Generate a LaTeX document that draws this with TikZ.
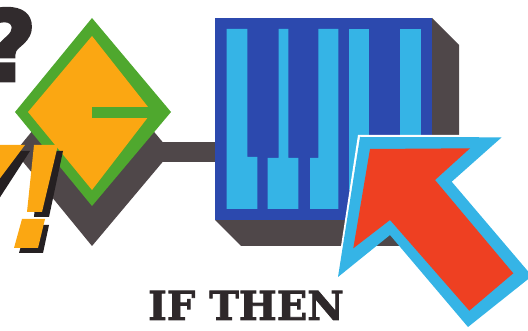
\documentclass[tikz,border=0pt]{standalone}
\usepackage{fontspec}
\setmainfont{DejaVu Serif}[BoldFeatures={FakeBold=2}]
\newfontfamily\marksfont{DejaVu Sans}[BoldFeatures={FakeBold=3}]
\definecolor{shadowgrey}{HTML}{4F4749}
\definecolor{leafgreen}{HTML}{4FA82E}
\definecolor{signorange}{HTML}{FBA712}
\definecolor{boxblue}{HTML}{2C49AE}
\definecolor{keycyan}{HTML}{35B4E6}
\definecolor{arrowred}{HTML}{EE4022}
\definecolor{inkdark}{HTML}{2E282A}
\begin{document}
\begin{tikzpicture}[x=1pt,y=-1pt]

\tikzset{
    shadow/.style={fill=shadowgrey},
    outerdiamond/.style={fill=leafgreen},
    innerdiamond/.style={fill=signorange},
    keyboard/.style={fill=boxblue},
    pianokey/.style={fill=keycyan},
    signmark/.style={fill=signorange},
    signshadow/.style={fill=inkdark!80!black},
    caption/.style={font=\bfseries\fontsize{40}{40}\selectfont, text=inkdark, inner sep=0pt},
    bigmark/.style={font=\marksfont\bfseries\fontsize{98}{98}\selectfont, text=inkdark!90!shadowgrey, inner sep=0pt}
}

    \clip (0,0) rectangle (528,331);

    % Question mark
    \node[bigmark, anchor=base east] (question) at (37,81) {?};

    % Diamond shadow and bar
    \path[shadow] (92,58) -- (171,152) -- (92,246) -- (15,152) -- cycle;
    \coordinate (barstart) at (160,152);
    \coordinate (barend) at (216,152);
    \draw[shadowgrey, line width=20pt] (barstart) -- (barend);

    % Diamond
    \path[outerdiamond] (92,18) -- (171,112) -- (92,206) -- (15,112) -- cycle;
    \path[innerdiamond] (92,36) -- (152,112) -- (92,190) -- (28,112) -- cycle;
    \path[outerdiamond] (92,107) rectangle (160,118);

    % Exclamation marks
    \path[signshadow] (-5,151) -- (30,151) -- (-5,205) -- cycle;
    \path[signmark] (-5,145) -- (25,145) -- (-5,185) -- cycle;
    \path[signshadow] (40,151) -- (63,151) -- (49,217) -- (34,217) -- cycle;
    \path[signmark] (34,145) -- (58,145) -- (42,212) -- (27,212) -- cycle;
    \path[signshadow] (27,225) -- (49,225) -- (43,253) -- (19,253) -- cycle;
    \path[signmark] (22,219) -- (45,219) -- (38,248) -- (14,248) -- cycle;

    % Keyboard box
    \path[shadow] (432,18) -- (459,45) -- (459,135) -- (400,246) -- (241,246) -- (215,220) -- cycle;
    \path[keyboard] (215,18) rectangle (432,220);
    \path[pianokey] (226.7,29) -- (247.3,29) -- (247.3,157) -- (257.3,157) -- (257.3,209) -- (226.7,209) -- cycle;
    \path[pianokey] (278.7,29) -- (288.3,29) -- (288.3,158) -- (298.3,158) -- (298.3,209) -- (267.7,209) -- (267.7,158) -- (278.7,158) -- cycle;
    \path[pianokey] (318.3,29) -- (338.3,29) -- (338.3,209) -- (310,209) -- (310,158) -- (318.3,158) -- cycle;
    \path[pianokey] (348.7,29) rectangle (369,190);
    \path[pianokey] (400,29) rectangle (421,140);

    % Pointer arrow
    \fill[white] (336,279) -- (358,135) -- (503,135) -- (503,139) -- (362,139) -- (342,277) -- cycle;
    \path[pianokey] (360,137) -- (501.7,137.3) -- (451.7,181.7) -- (532,276) -- (468,327) -- (390,235) -- (338,277) -- cycle;
    \path[fill=arrowred] (370,149) -- (470,148.3) -- (435,180) -- (513.3,273.3) -- (469.3,310.7) -- (390,220) -- (353.3,248.3) -- cycle;

    % Caption
    \node[caption, anchor=base] (ifthen) at (246,320) {IF THEN};

\end{tikzpicture}
\end{document}
